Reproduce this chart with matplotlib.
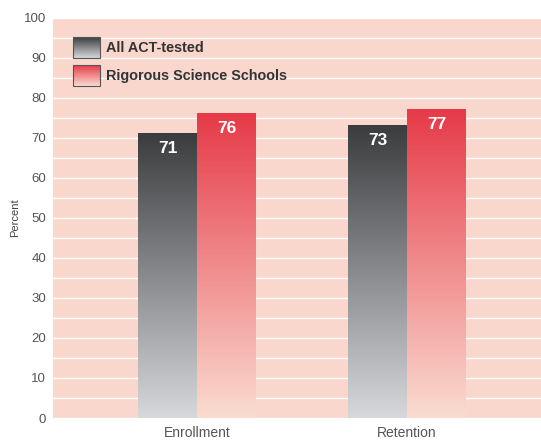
import matplotlib
matplotlib.use("Agg")
import matplotlib.pyplot as plt
import numpy as np
from matplotlib.colors import LinearSegmentedColormap
from matplotlib.patches import Rectangle

categories = ["Enrollment", "Retention"]
series_names = ["All ACT-tested", "Rigorous Science Schools"]
all_act = [71, 73]
rigorous = [76, 77]
yticks = [0, 10, 20, 30, 40, 50, 60, 70, 80, 90, 100]

plt.rcParams['font.family'] = ['Liberation Sans', 'DejaVu Sans']

fig = plt.figure(figsize=(5.41, 4.40), dpi=100)
ax = fig.add_axes([53/541, 1 - 418/440, 488/541, 400/440])
ax.set_facecolor('#f9d7cd')

dark_cmap = LinearSegmentedColormap.from_list('dark', ['#d6d8dc', '#3a3c3e'])
red_cmap = LinearSegmentedColormap.from_list('red', ['#fadcd0', '#e63a48'])

grad = np.linspace(0, 1, 256).reshape(-1, 1)
width = 0.28
x = np.arange(len(categories))

xlim = (-0.686, 1.638)
ylim = (0, 100)

for i, xc in enumerate(x):
    for vals, cmap, off in [(all_act, dark_cmap, -width/2), (rigorous, red_cmap, width/2)]:
        v = vals[i]
        x0 = xc + off - width/2
        ax.imshow(grad, cmap=cmap, origin='lower', aspect='auto',
                  extent=(x0, x0 + width, 0, v), zorder=3)
        ax.text(xc + off, v - 3.6, f"{v}", ha='center', va='center',
                color='white', fontsize=12.5, fontweight='bold', zorder=4)

# legend drawn manually with gradient swatches
leg_x0, leg_w = -0.59, 0.128
for j, (name, cmap) in enumerate([(series_names[0], dark_cmap), (series_names[1], red_cmap)]):
    ytop = 95.2 - j * 7.0
    ybot = ytop - 5.2
    ax.imshow(grad, cmap=cmap, origin='lower', aspect='auto',
              extent=(leg_x0, leg_x0 + leg_w, ybot, ytop), zorder=5)
    ax.add_patch(Rectangle((leg_x0, ybot), leg_w, ytop - ybot, fill=False,
                           edgecolor='#555555', linewidth=0.8, zorder=6))
    ax.text(leg_x0 + leg_w + 0.03, (ytop + ybot) / 2, name, ha='left', va='center',
            fontsize=10.4, fontweight='bold', color='#333333', zorder=6)

ax.set_xlim(*xlim)
ax.set_ylim(*ylim)
ax.set_yticks(yticks)
ax.set_yticks(np.arange(0, 101, 5), minor=True)
ax.set_xticks(x)
ax.set_xticklabels(categories)
ax.grid(True, axis='y', which='both', color='white', linewidth=1.0, zorder=1)
ax.set_axisbelow(True)
for s in ax.spines.values():
    s.set_visible(False)
ax.tick_params(axis='both', which='both', length=0, colors='#555555', labelsize=9.5)
ax.tick_params(axis='x', pad=6, labelsize=10)
ax.tick_params(axis='y', pad=5)
ax.set_ylabel("Percent", fontsize=8, color='#444444', labelpad=3)

fig.savefig("out.png", dpi=100)
